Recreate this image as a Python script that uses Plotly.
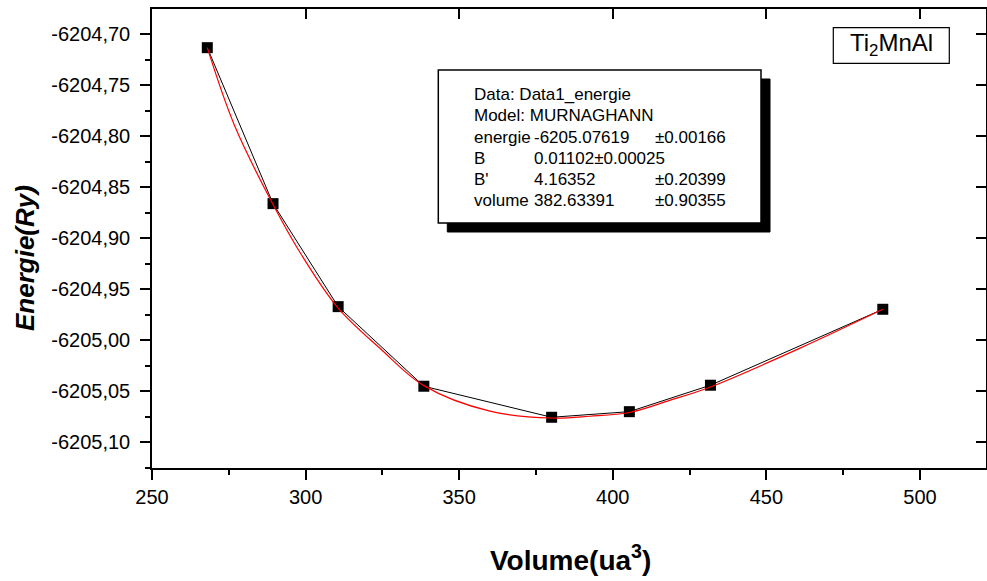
import plotly.graph_objects as go

# ---- data ----
volume = [268.0, 289.4, 310.6, 338.5, 380.1, 405.4, 431.8, 487.9]
energie = [-6204.7134, -6204.8662, -6204.9671, -6205.0451, -6205.0755,
           -6205.0700, -6205.0441, -6204.9697]

fit_volume = [268.0, 276.8, 289.4, 298.7, 310.6, 324.2, 338.5, 360.0, 380.1,
              392.5, 405.4, 418.5, 431.8, 460.8, 487.9]
fit_energie = [-6204.7134, -6204.7891, -6204.8670, -6204.9165, -6204.9685,
               -6205.0079, -6205.0445, -6205.0695, -6205.0762, -6205.0745,
               -6205.0708, -6205.0590, -6205.0458, -6205.0080, -6204.9697]

x_ticks = [250, 300, 350, 400, 450, 500]
x_ticklabels = ["250", "300", "350", "400", "450", "500"]
y_ticks = [-6204.70, -6204.75, -6204.80, -6204.85, -6204.90, -6204.95,
           -6205.00, -6205.05, -6205.10]
y_ticklabels = ["-6204,70", "-6204,75", "-6204,80", "-6204,85", "-6204,90",
                "-6204,95", "-6205,00", "-6205,05", "-6205,10"]

info_labels = ["Data: Data1_energie", "Model: MURNAGHANN", "energie", "B", "B'", "volume"]
info_values = ["", "", "-6205.07619", "0.01102\u00b10.00025", "4.16352", "382.63391"]
info_errors = ["", "", "\u00b10.00166", "", "\u00b10.20399", "\u00b10.90355"]

compound = "Ti<sub>2</sub>MnAl"
x_title = "Volume(ua<sup>3</sup>)"
y_title = "Energie(Ry)"

# ---- layout geometry (pixels) ----
W, H = 987, 581
PL, PR, PT, PB = 152, 986, 9, 468
X_RANGE = [250, 521.5]
Y_RANGE = [-6205.1252, -6204.6755]


def px(xp):
    return (xp - PL) / (PR - PL)


def py(yp):
    return (PB - yp) / (PB - PT)


FONT = "Liberation Sans, Arial, sans-serif"

fig = go.Figure()
fig.add_trace(go.Scatter(
    x=volume, y=energie, mode="lines+markers",
    line=dict(color="black", width=1),
    marker=dict(symbol="square", size=11, color="black"),
    showlegend=False, hoverinfo="x+y"))
fig.add_trace(go.Scatter(
    x=fit_volume, y=fit_energie, mode="lines",
    line=dict(color="red", width=1.2, shape="spline"),
    showlegend=False, hoverinfo="skip"))
# dummy trace for the mirrored (top/right) axes
fig.add_trace(go.Scatter(x=[None], y=[None], xaxis="x2", yaxis="y2",
                         showlegend=False, hoverinfo="skip"))

axis_common = dict(showgrid=False, zeroline=False, showline=True,
                   linecolor="black", linewidth=1.5)

fig.update_layout(
    width=W, height=H,
    margin=dict(l=PL, r=W - PR, t=PT, b=H - PB, pad=0),
    paper_bgcolor="white", plot_bgcolor="white",
    font=dict(family=FONT, color="black"),
    xaxis=dict(**axis_common, range=X_RANGE, tickmode="array",
               tickvals=x_ticks, ticktext=x_ticklabels,
               ticks="outside", ticklen=10, tickwidth=1.5, tickcolor="black",
               tickfont=dict(size=20, family=FONT, color="black"),
               minor=dict(dtick=25, tick0=250, ticks="outside", ticklen=5,
                          tickwidth=1.5, tickcolor="black"),
               anchor="y"),
    yaxis=dict(**axis_common, range=Y_RANGE, tickmode="array",
               tickvals=y_ticks, ticktext=y_ticklabels,
               ticks="outside", ticklen=10, tickwidth=1.5, tickcolor="black",
               tickfont=dict(size=20, family=FONT, color="black"),
               ticklabelstandoff=6,
               minor=dict(dtick=0.025, tick0=-6204.70, ticks="outside", ticklen=5,
                          tickwidth=1.5, tickcolor="black"),
               anchor="x"),
    xaxis2=dict(**axis_common, range=X_RANGE, overlaying="x", side="top",
                anchor="y2", tickmode="array", tickvals=x_ticks,
                ticks="inside", ticklen=10, tickwidth=1.5, tickcolor="black",
                showticklabels=False),
    yaxis2=dict(**axis_common, range=Y_RANGE, overlaying="y", side="right",
                anchor="x2", tickmode="array", tickvals=y_ticks,
                ticks="inside", ticklen=10, tickwidth=1.5, tickcolor="black",
                showticklabels=False),
)

# ---- fit-result box with shadow ----
BX0, BY0, BX1, BY1 = 438.3, 70, 761, 223
SH = 9
fig.add_shape(type="rect", xref="paper", yref="paper",
              x0=px(BX0 + SH), x1=px(BX1 + SH), y0=py(BY1 + SH), y1=py(BY0 + SH),
              fillcolor="black", line=dict(color="black", width=1), layer="above")
fig.add_shape(type="rect", xref="paper", yref="paper",
              x0=px(BX0), x1=px(BX1), y0=py(BY1), y1=py(BY0),
              fillcolor="white", line=dict(color="black", width=1.5), layer="above")

row_y0, row_dy = 94.5, 21.3
label_x, value_x, err_x = 471.7, 531.7, 652.7
for i, (lab, val, err) in enumerate(zip(info_labels, info_values, info_errors)):
    yy = py(row_y0 + i * row_dy)
    fig.add_annotation(xref="paper", yref="paper", x=px(label_x), y=yy,
                       text=lab, showarrow=False, xanchor="left", yanchor="middle",
                       font=dict(size=17, family=FONT, color="black"))
    if val:
        fig.add_annotation(xref="paper", yref="paper", x=px(value_x), y=yy,
                           text=val, showarrow=False, xanchor="left", yanchor="middle",
                           font=dict(size=17, family=FONT, color="black"))
    if err:
        fig.add_annotation(xref="paper", yref="paper", x=px(err_x), y=yy,
                           text=err, showarrow=False, xanchor="left", yanchor="middle",
                           font=dict(size=17, family=FONT, color="black"))

# ---- compound label ----
fig.add_shape(type="rect", xref="paper", yref="paper",
              x0=px(833.3), x1=px(949.3), y0=py(63.3), y1=py(27.7),
              fillcolor="white", line=dict(color="black", width=1.2), layer="above")
fig.add_annotation(xref="paper", yref="paper", x=px(891.3), y=py(44),
                   text=compound, showarrow=False, xanchor="center", yanchor="middle",
                   font=dict(size=24, family=FONT, color="black"))

# ---- axis titles ----
fig.add_annotation(xref="paper", yref="paper", x=px(570), y=py(558),
                   text="<b>" + x_title + "</b>", showarrow=False,
                   xanchor="center", yanchor="middle",
                   font=dict(size=28, family=FONT, color="black"))
fig.add_annotation(xref="paper", yref="paper", x=px(25), y=py(258),
                   text="<b><i>" + y_title + "</i></b>", showarrow=False,
                   textangle=-90, xanchor="center", yanchor="middle",
                   font=dict(size=26, family=FONT, color="black"))

fig.write_html("out.html", config={"displayModeBar": False},
               post_script="document.body.style.margin='0';document.body.style.padding='0';")
